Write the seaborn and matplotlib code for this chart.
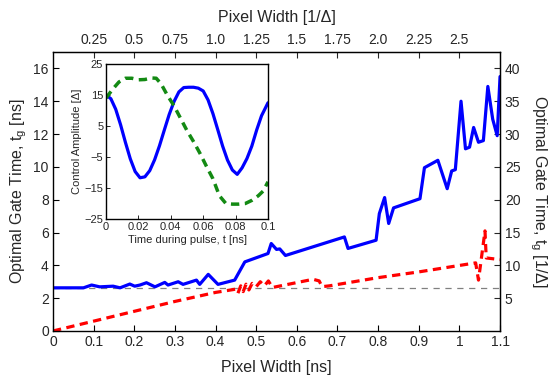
import numpy as np
import pandas as pd
import matplotlib
matplotlib.use("Agg")
import matplotlib.pyplot as plt
import seaborn as sns

# main panel: optimal gate time vs pixel width (ns)
pixel_width = [0, 0.075, 0.095, 0.115, 0.148, 0.165, 0.189, 0.201, 0.214, 0.230, 0.251,
               0.275, 0.283, 0.308, 0.320, 0.353, 0.361, 0.382, 0.406, 0.447, 0.472,
               0.529, 0.537, 0.550, 0.558, 0.572, 0.717, 0.726, 0.795, 0.803, 0.816,
               0.826, 0.838, 0.903, 0.914, 0.947, 0.970, 0.981, 0.990, 1.004, 1.015,
               1.025, 1.035, 1.047, 1.059, 1.070, 1.082, 1.093, 1.1]
gate_time = [2.63, 2.63, 2.8, 2.69, 2.73, 2.63, 2.86, 2.73, 2.8, 2.94, 2.69,
             2.96, 2.8, 3.0, 2.84, 3.1, 2.84, 3.45, 2.84, 3.1, 4.21,
             4.72, 5.33, 4.97, 5.0, 4.6, 5.73, 5.03, 5.53, 7.15, 8.13,
             6.55, 7.5, 8.06, 9.95, 10.4, 8.67, 9.75, 9.83, 14.0, 11.1,
             11.2, 12.4, 11.5, 11.6, 14.9, 12.9, 11.9, 15.5]

bound_width = [0, 0.1, 0.2, 0.3, 0.4, 0.45, 0.455, 0.462, 0.468, 0.475, 0.482, 0.49,
               0.5, 0.51, 0.52, 0.53, 0.54, 0.6, 0.64, 0.655, 0.662, 0.68, 0.8, 0.9,
               1.04, 1.047, 1.063, 1.066, 1.1]
bound_time = [0, 0.6, 1.2, 1.8, 2.35, 2.55, 2.3, 2.75, 2.4, 2.85, 2.5, 2.9,
              2.7, 3.0, 2.75, 3.05, 2.65, 2.95, 3.15, 3.05, 2.7, 2.75, 3.25, 3.6,
              4.15, 3.1, 6.1, 4.45, 4.35]

ref_time = 2.6          # gray dashed reference level
delta = 2.5             # ns -> 1/Delta conversion

# inset: control pulses
t_blue = [0, 0.003, 0.006, 0.009, 0.012, 0.015, 0.018, 0.021, 0.024, 0.027, 0.030,
          0.033, 0.036, 0.039, 0.042, 0.045, 0.048, 0.051, 0.054, 0.057, 0.060,
          0.063, 0.066, 0.069, 0.072, 0.075, 0.078, 0.081, 0.084, 0.087, 0.090,
          0.093, 0.096, 0.1]
amp_blue = [15.0, 13.8, 10.4, 5.4, -0.3, -5.6, -9.7, -11.7, -11.4, -9.4, -5.9,
            -1.4, 3.7, 8.7, 12.9, 16.0, 17.4, 17.5, 17.5, 17.2, 16.3,
            13.4, 9.0, 3.8, -1.5, -6.0, -9.2, -10.6, -8.5, -5.5, -1.5,
            3.7, 8.3, 12.5]
t_green = [0, 0.004, 0.008, 0.012, 0.016, 0.020, 0.024, 0.028, 0.031, 0.034, 0.038,
           0.042, 0.046, 0.050, 0.054, 0.058, 0.062, 0.066, 0.070, 0.074, 0.078,
           0.082, 0.086, 0.090, 0.094, 0.097, 0.1]
amp_green = [14.0, 16.8, 19.2, 20.4, 20.4, 19.9, 20.0, 20.5, 20.4, 18.6, 14.8,
             11.5, 7.5, 3.5, 0.0, -3.8, -8.0, -12.0, -17.5, -20.0, -20.2,
             -20.2, -20.0, -19.0, -17.5, -16.0, -13.0]

sns.set_style("ticks")
plt.rcParams['font.family'] = ['Liberation Sans', 'DejaVu Sans']
plt.rcParams['xtick.direction'] = 'in'
plt.rcParams['ytick.direction'] = 'in'

fig = plt.figure(figsize=(5.51, 3.83), dpi=100)
ax = fig.add_axes([0.0962, 0.1358, 0.8113, 0.7285])

ax.axhline(ref_time, color='#808080', lw=0.9, dashes=(5, 4.5))
sns.lineplot(x=bound_width, y=bound_time, ax=ax, color='#ff0000', lw=2.3)
ax.lines[-1].set_dashes((2.6, 1.7))
sns.lineplot(x=pixel_width, y=gate_time, ax=ax, color='#0000ff', lw=2.3)

ax.set_xlim(0, 1.1)
ax.set_ylim(0, 17)
ax.set_xticks(np.arange(0, 1.11, 0.1))
ax.set_xticklabels(['0', '0.1', '0.2', '0.3', '0.4', '0.5', '0.6', '0.7', '0.8', '0.9', '1', '1.1'])
ax.set_yticks(np.arange(0, 17, 2))
ax.tick_params(labelsize=10, length=4, width=0.8, color='black', pad=3)
ax.set_xlabel('Pixel Width [ns]', fontsize=11.5, labelpad=8)
ax.set_ylabel('Optimal Gate Time, t$_\\mathregular{g}$ [ns]', fontsize=11.5, labelpad=3)
for s in ax.spines.values():
    s.set_visible(True)
    s.set_linewidth(1.0)
    s.set_color('black')

top = ax.secondary_xaxis('top', functions=(lambda x: x * delta, lambda x: x / delta))
top.set_xticks([0.25, 0.5, 0.75, 1.0, 1.25, 1.5, 1.75, 2.0, 2.25, 2.5])
top.set_xticklabels(['0.25', '0.5', '0.75', '1.0', '1.25', '1.5', '1.75', '2.0', '2.25', '2.5'])
top.tick_params(labelsize=10, length=4, width=0.8, direction='in')
top.set_xlabel('Pixel Width [1/\u0394]', fontsize=11.5, labelpad=8)

right = ax.secondary_yaxis('right', functions=(lambda y: y * delta, lambda y: y / delta))
right.set_yticks(np.arange(5, 41, 5))
right.tick_params(labelsize=10, length=4, width=0.8, direction='in')
right.set_ylabel('Optimal Gate Time, t$_\\mathregular{g}$ [1/\u0394]', fontsize=11.5,
                 rotation=-90, labelpad=20)

# inset
ins = fig.add_axes([106 / 551, 1 - 219 / 383, 162 / 551, 155 / 383])
sns.lineplot(x=t_blue, y=amp_blue, ax=ins, color='#0000ff', lw=2.3)
sns.lineplot(x=t_green, y=amp_green, ax=ins, color='#138a13', lw=2.5)
ins.lines[-1].set_dashes((2.4, 1.6))
ins.set_xlim(0, 0.1)
ins.set_ylim(-25, 25)
ins.set_xticks([0, 0.02, 0.04, 0.06, 0.08, 0.1])
ins.set_xticklabels(['0', '0.02', '0.04', '0.06', '0.08', '0.1'])
ins.set_yticks([25, 15, 5, -5, -15, -25])
ins.tick_params(labelsize=8, length=3, width=0.7, pad=2)
ins.set_xlabel('Time during pulse, t [ns]', fontsize=8, labelpad=2)
ins.set_ylabel('Control Amplitude [\u0394]', fontsize=8, labelpad=2)
for s in ins.spines.values():
    s.set_visible(True)
    s.set_linewidth(1.0)
    s.set_color('black')

fig.savefig('out.png', dpi=100)
